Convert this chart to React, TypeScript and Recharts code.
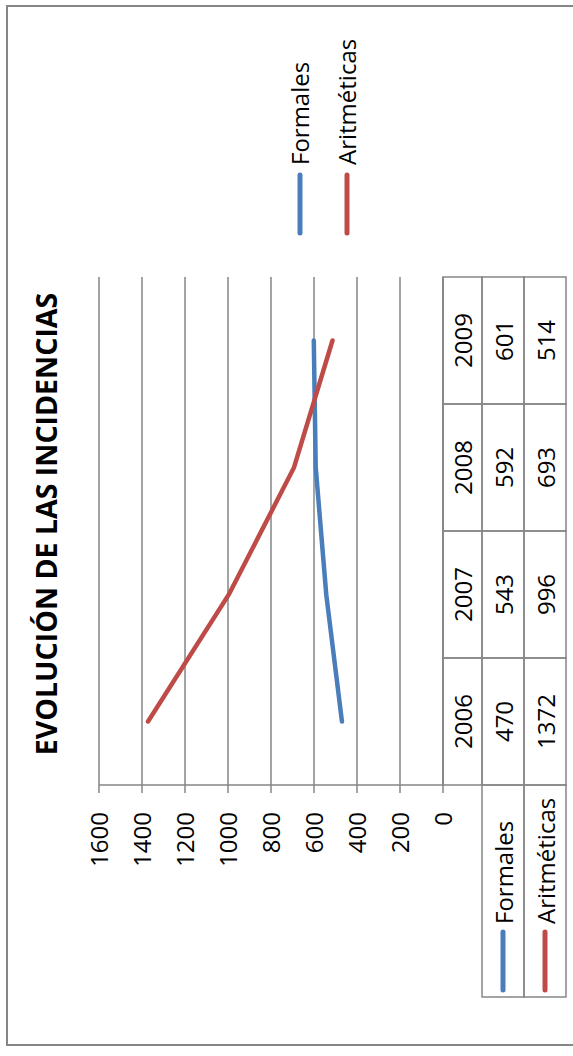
import React from 'react';
import { LineChart, Line, XAxis, YAxis, CartesianGrid, Legend } from 'recharts';

const years = ['2006', '2007', '2008', '2009'];
const formales = [470, 543, 592, 601];
const aritmeticas = [1372, 996, 693, 514];
const valueTicks = [0, 200, 400, 600, 800, 1000, 1200, 1400, 1600];

const seriesNames = ['Formales', 'Aritméticas'];

const BLUE = '#4A7EBB';
const RED = '#BE4B48';
const GRAY = '#868686';
const COLORS = [BLUE, RED];

// chart is laid out unrotated (W x H), then turned 90deg to fit the page
const W = 1056;
const H = 573;
const PLOT_LEFT = 271;
const PLOT_RIGHT = 779;
const PLOT_TOP = 99;
const PLOT_BOTTOM = 443;
const BAND = (PLOT_RIGHT - PLOT_LEFT) / years.length;
const ROWS = [0, 39, 81, 123];
const LABEL_W = 212;

const data = years.map((year, i) => ({
  year,
  Formales: formales[i],
  Aritméticas: aritmeticas[i],
}));

function TableTick(props: any) {
  const { x, y, payload, index } = props;
  const half = BAND / 2;
  const rowTexts = [payload.value, String(formales[index]), String(aritmeticas[index])];
  return (
    <g>
      {rowTexts.map((t, r) => (
        <g key={r}>
          <rect
            x={x - half}
            y={y + ROWS[r]}
            width={BAND}
            height={ROWS[r + 1] - ROWS[r]}
            fill="none"
            stroke={GRAY}
            strokeWidth={1.5}
          />
          <text
            x={x}
            y={y + (ROWS[r] + ROWS[r + 1]) / 2}
            textAnchor="middle"
            dominantBaseline="central"
            fontSize={24}
            fill="#000"
          >
            {t}
          </text>
        </g>
      ))}
      {index === 0 &&
        seriesNames.map((name, s) => {
          const top = y + ROWS[s + 1];
          const h = ROWS[s + 2] - ROWS[s + 1];
          const left = x - half - LABEL_W;
          return (
            <g key={name}>
              <rect x={left} y={top} width={LABEL_W} height={h} fill="none" stroke={GRAY} strokeWidth={1.5} />
              <line
                x1={left + 7}
                x2={left + 65}
                y1={top + h / 2}
                y2={top + h / 2}
                stroke={COLORS[s]}
                strokeWidth={5}
                strokeLinecap="round"
              />
              <text x={left + 73} y={top + h / 2} dominantBaseline="central" fontSize={24} fill="#000">
                {name}
              </text>
            </g>
          );
        })}
    </g>
  );
}

function LegendContent(props: any) {
  const { payload = [] } = props;
  // keep series order (legend sorts by name otherwise)
  const items = [...payload].sort(
    (a: any, b: any) => seriesNames.indexOf(a.value) - seriesNames.indexOf(b.value)
  );
  return (
    <div>
      {items.map((p: any) => (
        <div key={p.value} style={{ height: 47, display: 'flex', alignItems: 'center' }}>
          <svg width={71} height={10}>
            <line x1={3} y1={5} x2={61} y2={5} stroke={p.color} strokeWidth={5} strokeLinecap="round" />
          </svg>
          <span style={{ fontSize: 24, color: '#000', whiteSpace: 'nowrap' }}>{p.value}</span>
        </div>
      ))}
    </div>
  );
}

export default function App() {
  return (
    <div
      style={{
        position: 'absolute',
        left: 0,
        top: 0,
        width: 573,
        height: 1056,
        overflow: 'hidden',
        background: '#fff',
        fontFamily: '"Open Sans", sans-serif',
      }}
    >
      <div
        style={{
          position: 'absolute',
          left: 0,
          top: 0,
          width: W,
          height: H,
          transformOrigin: '0 0',
          transform: `translate(0px, ${W}px) rotate(-90deg)`,
        }}
      >
        <svg width={W} height={H} style={{ position: 'absolute', left: 0, top: 0 }}>
          <path d={`M11 ${H} L11 7 L1050 7 L1050 ${H}`} fill="none" stroke={GRAY} strokeWidth={2} />
          <text
            x={532}
            y={57}
            textAnchor="middle"
            fontSize={28.5}
            fontWeight="bold"
            fill="#000"
          >
            EVOLUCIÓN DE LAS INCIDENCIAS
          </text>
        </svg>
        <div style={{ position: 'absolute', left: 0, top: 0 }}>
          <LineChart
            width={W}
            height={H}
            data={data}
            margin={{ top: PLOT_TOP, right: W - PLOT_RIGHT, bottom: 57, left: PLOT_LEFT - 60 }}
          >
            <CartesianGrid vertical={false} stroke={GRAY} strokeWidth={1.5} />
            <XAxis
              dataKey="year"
              height={H - PLOT_BOTTOM - 57}
              padding={{ left: BAND / 2, right: BAND / 2 }}
              axisLine={{ stroke: GRAY, strokeWidth: 1.5 }}
              tickLine={false}
              tickSize={0}
              tickMargin={0}
              interval={0}
              tick={<TableTick />}
            />
            <YAxis
              width={60}
              domain={[0, 1600]}
              ticks={valueTicks}
              interval={0}
              axisLine={{ stroke: GRAY, strokeWidth: 1.5 }}
              tickLine={{ stroke: GRAY, strokeWidth: 1.5 }}
              tickSize={8}
              tickMargin={19}
              tick={{ fontSize: 24, fill: '#000' }}
            />
            <Legend
              layout="vertical"
              align="center"
              verticalAlign="middle"
              content={<LegendContent />}
              wrapperStyle={{ left: 820, top: 276, width: 200 }}
            />
            {seriesNames.map((name, s) => (
              <Line
                key={name}
                type="linear"
                dataKey={name}
                name={name}
                stroke={COLORS[s]}
                strokeWidth={4.5}
                strokeLinecap="round"
                dot={false}
                activeDot={false}
                isAnimationActive={false}
              />
            ))}
          </LineChart>
        </div>
      </div>
    </div>
  );
}
